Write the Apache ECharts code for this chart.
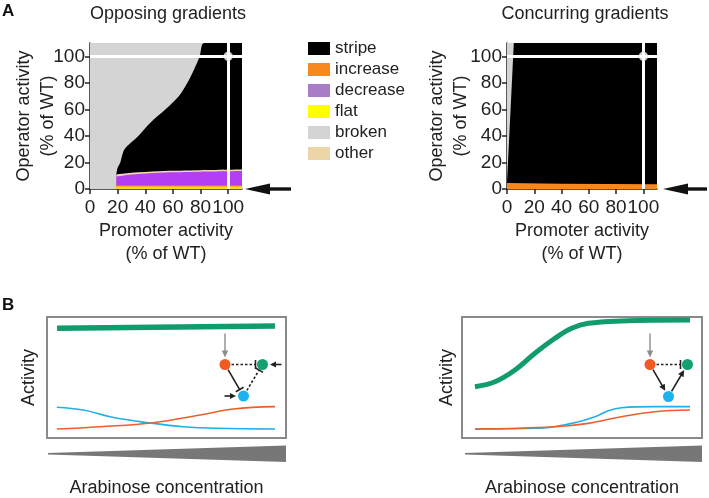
<!DOCTYPE html>
<html><head><meta charset="utf-8">
<script src="https://cdn.jsdelivr.net/npm/echarts@6/dist/echarts.min.js"></script>
<style>html,body{margin:0;padding:0;background:#fff}#c{width:709px;height:498px}</style>
</head><body><div id="c"></div>
<script>
// ---------- data ----------
const promoterTicks = [0, 20, 40, 60, 80, 100];
const operatorTicks = [0, 20, 40, 60, 80, 100];
const legendNames = ['stripe', 'increase', 'decrease', 'flat', 'broken', 'other'];
const wtPoint = [100, 100];

// Opposing gradients (promoter %, operator % boundary)
const oppBroken = [[0, 110], [110, 110]];
const oppStripe = [[19, 9.5], [19.3, 13], [20, 16], [21.9, 20], [25, 30], [35, 40], [43.7, 50], [54.7, 60], [64.4, 70], [70.5, 80], [75.3, 90], [79.4, 100], [82.6, 110], [110, 110]];
const oppOther = [[19, 10.8], [30, 12.2], [50, 13.4], [80, 14.1], [110, 14.6]];
const oppDecrease = [[19, 9.5], [30, 11], [50, 12.3], [80, 13], [110, 13.5]];
const oppIncrease = [[19, 2.7], [110, 2.7]];
const oppFlat = [[19, 1.8], [110, 1.8]];

// Concurring gradients
const conBroken = [[0, 110], [110, 110]];
const conStripe = [[0, 5], [5, 110], [110, 110]];
const conIncrease = [[0, 4.5], [40, 4], [110, 3.5]];

// Panel B schematic curves (arabinose %, activity %)
const oppGreen = [[4.2, 90.7], [95.4, 92.6]];
const oppBlue = [[4.1, 25.4], [15.2, 23.1], [26.4, 17.6], [38.9, 13.5], [44.5, 12.1], [57, 9.3], [71, 8.0], [95.4, 7.4]];
const oppOrange = [[4.1, 7.4], [22.2, 9.3], [44.5, 12.6], [64, 19], [78, 24], [95.4, 25.9]];
const conGreen = [[5.4, 42.4], [13.75, 46.5], [22.1, 56.2], [30.4, 70], [38.75, 82.4], [45.7, 90.7], [52.6, 94.8], [66.5, 96.7], [95, 97.5]];
const conBlue = [[5.4, 7.4], [31.8, 8], [45.7, 12.1], [55.4, 17.6], [61, 22.6], [66.5, 25], [80.4, 25.9], [95, 25.9]];
const conOrange = [[5.4, 7.4], [38.75, 9.3], [52.6, 12.1], [66.5, 17.6], [80.4, 21.7], [95, 23.1]];

// ---------- styles ----------
const FONT = '"Liberation Sans", Arial, Helvetica, sans-serif';
const TXT = '#222';
const C = {
  stripe: '#000000', increase: '#f7891c', decrease: '#b240f2', decreaseLegend: '#a87cc6',
  flat: '#ffd91a', flatLegend: '#ffff00', broken: '#d4d4d4', other: '#f3d7bd', otherLegend: '#ecd6a8'
};

const chart = echarts.init(document.getElementById('c'), null, {renderer: 'canvas'});

function areaSeries(name, data, color, xi, smooth) {
  return {
    name, type: 'line', data, xAxisIndex: xi, yAxisIndex: xi,
    symbol: 'none', showSymbol: false, silent: true,
    smooth: smooth || false,
    lineStyle: {width: 0, color}, itemStyle: {color},
    areaStyle: {color, opacity: 1, origin: 'start'}
  };
}
function wtSeries(xi) {
  return {
    type: 'scatter', xAxisIndex: xi, yAxisIndex: xi, data: [wtPoint], symbolSize: 9, z: 6, silent: true,
    itemStyle: {color: '#fff', borderColor: '#bbb', borderWidth: 0.5},
    markLine: {silent: true, symbol: 'none', label: {show: false}, z: 5,
      lineStyle: {color: '#fff', width: 3, type: 'solid'},
      data: [{xAxis: wtPoint[0]}, {yAxis: wtPoint[1]}]}
  };
}
function curve(data, color, width, xi) {
  return {type: 'line', data, xAxisIndex: xi, yAxisIndex: xi, symbol: 'none', silent: true,
    smooth: 0.4, lineStyle: {color, width, cap: 'butt'}};
}
function xA(gi, nameGap) {
  return {
    gridIndex: gi, type: 'value', min: 0, max: 110, offset: 3,
    axisLine: {lineStyle: {color: TXT, width: 1.5}},
    axisTick: {length: 5, customValues: promoterTicks, lineStyle: {color: TXT, width: 1.5}},
    axisLabel: {customValues: promoterTicks, fontSize: 19, color: TXT, margin: 6, fontFamily: FONT},
    splitLine: {show: false},
    name: 'Promoter activity\n(% of WT)', nameLocation: 'middle', nameGap,
    nameTextStyle: {fontSize: 18, lineHeight: 23, color: TXT, fontFamily: FONT}
  };
}
function yA(gi, nameGap) {
  return {
    gridIndex: gi, type: 'value', min: 0, max: 110, offset: 1,
    axisLine: {lineStyle: {color: TXT, width: 1.5}},
    axisTick: {length: 5, customValues: operatorTicks, lineStyle: {color: TXT, width: 1.5}},
    axisLabel: {customValues: operatorTicks, fontSize: 19, color: TXT, margin: 4, fontFamily: FONT},
    splitLine: {show: false},
    name: 'Operator activity\n(% of WT)', nameLocation: 'middle', nameGap, nameRotate: 90,
    nameMoveOverlap: false,
    nameTextStyle: {fontSize: 18, lineHeight: 24, color: TXT, fontFamily: FONT}
  };
}
function xB(gi) {
  return {gridIndex: gi, type: 'value', min: 0, max: 100, axisLine: {show: false}, axisTick: {show: false},
    axisLabel: {show: false}, splitLine: {show: false},
    name: 'Arabinose concentration', nameLocation: 'middle', nameGap: 41,
    nameTextStyle: {fontSize: 18, color: TXT, fontFamily: FONT}};
}
function yB(gi, gap) {
  return {gridIndex: gi, type: 'value', min: 0, max: 100, axisLine: {show: false}, axisTick: {show: false},
    axisLabel: {show: false}, splitLine: {show: false},
    name: 'Activity', nameLocation: 'middle', nameGap: gap, nameRotate: 90,
    nameTextStyle: {fontSize: 18, color: TXT, fontFamily: FONT}};
}

// ---------- graphic helpers ----------
const G = [];
function line(p, q, color, width, dash) {
  G.push({type: 'line', z: 100, silent: true, shape: {x1: p[0], y1: p[1], x2: q[0], y2: q[1]},
    style: {stroke: color, lineWidth: width, lineDash: dash || null}});
}
function unit(p, q) { const dx = q[0] - p[0], dy = q[1] - p[1], l = Math.hypot(dx, dy); return [dx / l, dy / l]; }
function head(tip, u, len, hw, color) {
  const b = [tip[0] - u[0] * len, tip[1] - u[1] * len], n = [-u[1], u[0]];
  G.push({type: 'polygon', z: 101, silent: true,
    shape: {points: [tip, [b[0] + n[0] * hw, b[1] + n[1] * hw], [b[0] - n[0] * hw, b[1] - n[1] * hw]]},
    style: {fill: color}});
}
function tbar(pt, u, hw, color) {
  const n = [-u[1], u[0]];
  line([pt[0] + n[0] * hw, pt[1] + n[1] * hw], [pt[0] - n[0] * hw, pt[1] - n[1] * hw], color, 1.6);
}
function edge(p, q, s, e, kind, dash) {
  const u = unit(p, q);
  const a = [p[0] + u[0] * s, p[1] + u[1] * s], b = [q[0] - u[0] * e, q[1] - u[1] * e];
  if (kind === 'arrow') {
    line(a, [b[0] - u[0] * 4, b[1] - u[1] * 4], '#222', 1.6, dash);
    head(b, u, 6.5, 3.2, '#222');
  } else {
    line(a, b, '#222', 1.6, dash);
    tbar(b, u, 4.5, '#222');
  }
}
function node(p, color) {
  G.push({type: 'circle', z: 102, silent: true, shape: {cx: p[0], cy: p[1], r: 5.5}, style: {fill: color}});
}
function diagram(o, g, b, mode) {
  line([o[0], o[1] - 31], [o[0], o[1] - 13], '#8c8c8c', 1.4);
  head([o[0], o[1] - 7], [0, 1], 7, 3.2, '#8c8c8c');
  edge(o, g, 6.5, 7, 'tee', [2.5, 2]);
  if (mode === 'opp') {
    edge(o, b, 6, 7.5, 'tee');
    edge(b, g, 6.5, 6.5, 'tee', [2.5, 2]);
    line([g[0] + 19, g[1]], [g[0] + 12, g[1]], '#222', 1.6);
    head([g[0] + 7.5, g[1]], [-1, 0], 6, 3, '#222');
    line([b[0] - 19, b[1]], [b[0] - 12, b[1]], '#222', 1.6);
    head([b[0] - 7.5, b[1]], [1, 0], 6, 3, '#222');
  } else {
    edge(o, b, 6, 6.5, 'arrow');
    edge(b, g, 6, 6.5, 'arrow');
  }
  node(o, '#f15a24'); node(g, '#12a06e'); node(b, '#1db2ee');
}
function bigArrow(tipX, endX, y) {
  G.push({type: 'polygon', z: 100, silent: true,
    shape: {points: [[tipX, y], [tipX + 25, y - 5.5], [tipX + 25, y + 5.5]]}, style: {fill: '#111'}});
  G.push({type: 'rect', z: 100, silent: true,
    shape: {x: tipX + 22, y: y - 1.7, width: endX - tipX - 22, height: 3.4}, style: {fill: '#111'}});
}
function wedge(x0, x1) {
  G.push({type: 'polygon', z: 100, silent: true,
    shape: {points: [[x0, 453], [x1, 445.5], [x1, 462], [x0, 454.5]]}, style: {fill: '#777'}});
}
bigArrow(245, 291, 189);
bigArrow(663, 707, 189);
wedge(48, 286);
wedge(465, 702);
diagram([225, 364.5], [262.5, 364.5], [243.5, 396], 'opp');
diagram([650, 364.5], [687.5, 364.5], [668.5, 396.5], 'con');

const option = {
  animation: false,
  backgroundColor: '#fff',
  textStyle: {fontFamily: FONT},
  title: [
    {text: 'A', left: 2, top: 3, padding: 0, textStyle: {fontSize: 17, fontWeight: 'bold', color: '#111', fontFamily: FONT}},
    {text: 'B', left: 2, top: 297, padding: 0, textStyle: {fontSize: 17, fontWeight: 'bold', color: '#111', fontFamily: FONT}},
    {text: 'Opposing gradients', left: 168, top: 5, padding: 0, textAlign: 'center', textStyle: {fontSize: 18, fontWeight: 'normal', color: TXT, fontFamily: FONT}},
    {text: 'Concurring gradients', left: 585, top: 5, padding: 0, textAlign: 'center', textStyle: {fontSize: 18, fontWeight: 'normal', color: TXT, fontFamily: FONT}}
  ],
  legend: {
    orient: 'vertical', left: 308, top: 40, padding: 0, itemWidth: 22, itemHeight: 13, itemGap: 4,
    icon: 'rect', selectedMode: false,
    textStyle: {fontSize: 17, color: TXT, fontFamily: FONT},
    data: [
      {name: 'stripe', itemStyle: {color: C.stripe}},
      {name: 'increase', itemStyle: {color: C.increase}},
      {name: 'decrease', itemStyle: {color: C.decreaseLegend}},
      {name: 'flat', itemStyle: {color: C.flatLegend}},
      {name: 'broken', itemStyle: {color: C.broken}},
      {name: 'other', itemStyle: {color: C.otherLegend}}
    ]
  },
  grid: [
    {left: 90, top: 43, width: 152, height: 146},
    {left: 507, top: 43, width: 150, height: 146},
    {left: 47, top: 317, width: 239, height: 121, show: true, borderColor: '#8a8a8a', borderWidth: 2, backgroundColor: '#fff'},
    {left: 462, top: 317, width: 240, height: 121, show: true, borderColor: '#8a8a8a', borderWidth: 2, backgroundColor: '#fff'}
  ],
  xAxis: [xA(0, 28), xA(1, 28), xB(2), xB(3)],
  yAxis: [yA(0, 29), yA(1, 33), yB(2, 9), yB(3, 6)],
  series: [
    areaSeries('broken', oppBroken, C.broken, 0),
    areaSeries('stripe', oppStripe, C.stripe, 0, 0.3),
    areaSeries('other', oppOther, C.other, 0, 0.3),
    areaSeries('decrease', oppDecrease, C.decrease, 0, 0.3),
    areaSeries('increase', oppIncrease, C.increase, 0),
    areaSeries('flat', oppFlat, C.flat, 0),
    wtSeries(0),
    areaSeries('broken', conBroken, C.broken, 1),
    areaSeries('stripe', conStripe, C.stripe, 1),
    areaSeries('increase', conIncrease, C.increase, 1),
    wtSeries(1),
    curve(oppGreen, '#119c6b', 5.5, 2),
    curve(oppBlue, '#1fb0ea', 1.6, 2),
    curve(oppOrange, '#ea5f2a', 1.6, 2),
    curve(conGreen, '#119c6b', 5, 3),
    curve(conBlue, '#1fb0ea', 1.6, 3),
    curve(conOrange, '#ea5f2a', 1.6, 3)
  ],
  graphic: G
};
chart.setOption(option);
</script></body></html>
